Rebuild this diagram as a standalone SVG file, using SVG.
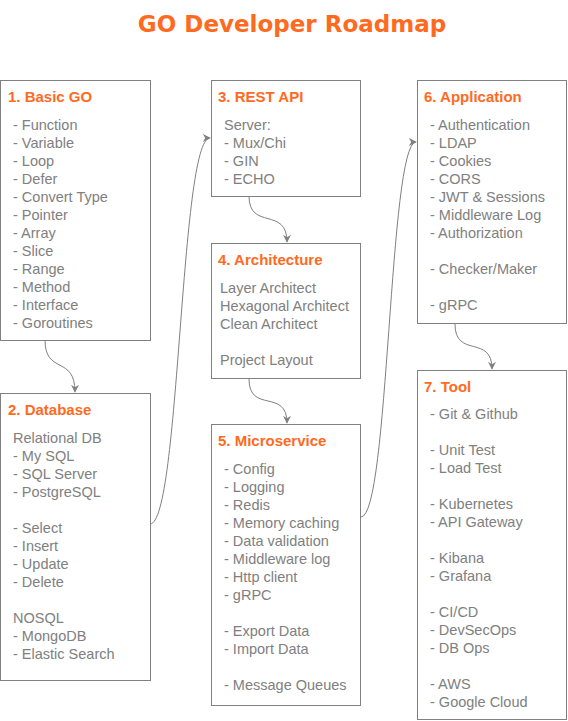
<svg xmlns="http://www.w3.org/2000/svg" width="568" height="721" viewBox="0 0 568 721">
<style>
.box{fill:#ffffff;stroke:#808080;stroke-width:1}
.h{font-family:"Liberation Sans",Arial,sans-serif;font-weight:bold;font-size:15px;fill:#ff6a1f}
.t{font-family:"Liberation Sans",Arial,sans-serif;font-size:14.5px;fill:#808080}
.title{font-family:"DejaVu Sans",Verdana,sans-serif;font-weight:bold;font-size:23px;fill:#ff6a1f}
.c{fill:none;stroke:#808080;stroke-width:1}
</style>
<defs>
<marker id="arr" viewBox="0 0 10 10" refX="9" refY="5" markerWidth="8" markerHeight="8" markerUnits="userSpaceOnUse" orient="auto">
<path d="M0,0 L10,5 L0,10 L3,5 Z" fill="#808080"/>
</marker>
</defs>
<rect width="568" height="721" fill="#ffffff"/>
<text class="title" x="292" y="32" text-anchor="middle">GO Developer Roadmap</text>

<g id="connectors">
<path class="c" d="M45,340 C45,375 75,355 75,392" marker-end="url(#arr)"/>
<path class="c" d="M150,524 C180,524 180,138 210,138" marker-end="url(#arr)"/>
<path class="c" d="M249,196 C249,231 287,206 287,242" marker-end="url(#arr)"/>
<path class="c" d="M249,379 C249,414 287,388 287,423" marker-end="url(#arr)"/>
<path class="c" d="M361,517 C389,517 389,142 416,142" marker-end="url(#arr)"/>
<path class="c" d="M455,324 C455,359 492,334 492,369" marker-end="url(#arr)"/>
</g>

<g id="node1">
<rect class="box" x="0.5" y="80.5" width="150" height="260"/>
<text class="h" x="8" y="102">1. Basic GO</text>
<text class="t" x="13" y="130">- Function</text>
<text class="t" x="13" y="148">- Variable</text>
<text class="t" x="13" y="166">- Loop</text>
<text class="t" x="13" y="184">- Defer</text>
<text class="t" x="13" y="202">- Convert Type</text>
<text class="t" x="13" y="220">- Pointer</text>
<text class="t" x="13" y="238">- Array</text>
<text class="t" x="13" y="256">- Slice</text>
<text class="t" x="13" y="274">- Range</text>
<text class="t" x="13" y="292">- Method</text>
<text class="t" x="13" y="310">- Interface</text>
<text class="t" x="13" y="328">- Goroutines</text>
</g>

<g id="node2">
<rect class="box" x="0.5" y="393.5" width="150" height="287"/>
<text class="h" x="8" y="415">2. Database</text>
<text class="t" x="13" y="443">Relational DB</text>
<text class="t" x="13" y="461">- My SQL</text>
<text class="t" x="13" y="479">- SQL Server</text>
<text class="t" x="13" y="497">- PostgreSQL</text>
<text class="t" x="13" y="533">- Select</text>
<text class="t" x="13" y="551">- Insert</text>
<text class="t" x="13" y="569">- Update</text>
<text class="t" x="13" y="587">- Delete</text>
<text class="t" x="13" y="623">NOSQL</text>
<text class="t" x="13" y="641">- MongoDB</text>
<text class="t" x="13" y="659">- Elastic Search</text>
</g>

<g id="node3">
<rect class="box" x="211.5" y="80.5" width="149" height="116"/>
<text class="h" x="218" y="102">3. REST API</text>
<text class="t" x="224" y="130">Server:</text>
<text class="t" x="224" y="148">- Mux/Chi</text>
<text class="t" x="224" y="166">- GIN</text>
<text class="t" x="224" y="184">- ECHO</text>
</g>

<g id="node4">
<rect class="box" x="211.5" y="243.5" width="149" height="135"/>
<text class="h" x="218" y="265">4. Architecture</text>
<text class="t" x="220" y="293">Layer Architect</text>
<text class="t" x="220" y="311">Hexagonal Architect</text>
<text class="t" x="220" y="329">Clean Architect</text>
<text class="t" x="220" y="365">Project Layout</text>
</g>

<g id="node5">
<rect class="box" x="211.5" y="424.5" width="149" height="281"/>
<text class="h" x="218" y="446">5. Microservice</text>
<text class="t" x="224" y="474">- Config</text>
<text class="t" x="224" y="492">- Logging</text>
<text class="t" x="224" y="510">- Redis</text>
<text class="t" x="224" y="528">- Memory caching</text>
<text class="t" x="224" y="546">- Data validation</text>
<text class="t" x="224" y="564">- Middleware log</text>
<text class="t" x="224" y="582">- Http client</text>
<text class="t" x="224" y="600">- gRPC</text>
<text class="t" x="224" y="636">- Export Data</text>
<text class="t" x="224" y="654">- Import Data</text>
<text class="t" x="224" y="690">- Message Queues</text>
</g>

<g id="node6">
<rect class="box" x="417.5" y="80.5" width="149" height="243"/>
<text class="h" x="424" y="102">6. Application</text>
<text class="t" x="430" y="130">- Authentication</text>
<text class="t" x="430" y="148">- LDAP</text>
<text class="t" x="430" y="166">- Cookies</text>
<text class="t" x="430" y="184">- CORS</text>
<text class="t" x="430" y="202">- JWT &amp; Sessions</text>
<text class="t" x="430" y="220">- Middleware Log</text>
<text class="t" x="430" y="238">- Authorization</text>
<text class="t" x="430" y="274">- Checker/Maker</text>
<text class="t" x="430" y="310">- gRPC</text>
</g>

<g id="node7">
<rect class="box" x="417.5" y="370.5" width="149" height="349"/>
<text class="h" x="424" y="392">7. Tool</text>
<text class="t" x="430" y="419">- Git &amp; Github</text>
<text class="t" x="430" y="455">- Unit Test</text>
<text class="t" x="430" y="473">- Load Test</text>
<text class="t" x="430" y="509">- Kubernetes</text>
<text class="t" x="430" y="527">- API Gateway</text>
<text class="t" x="430" y="563">- Kibana</text>
<text class="t" x="430" y="581">- Grafana</text>
<text class="t" x="430" y="617">- CI/CD</text>
<text class="t" x="430" y="635">- DevSecOps</text>
<text class="t" x="430" y="653">- DB Ops</text>
<text class="t" x="430" y="689">- AWS</text>
<text class="t" x="430" y="707">- Google Cloud</text>
</g>
</svg>
